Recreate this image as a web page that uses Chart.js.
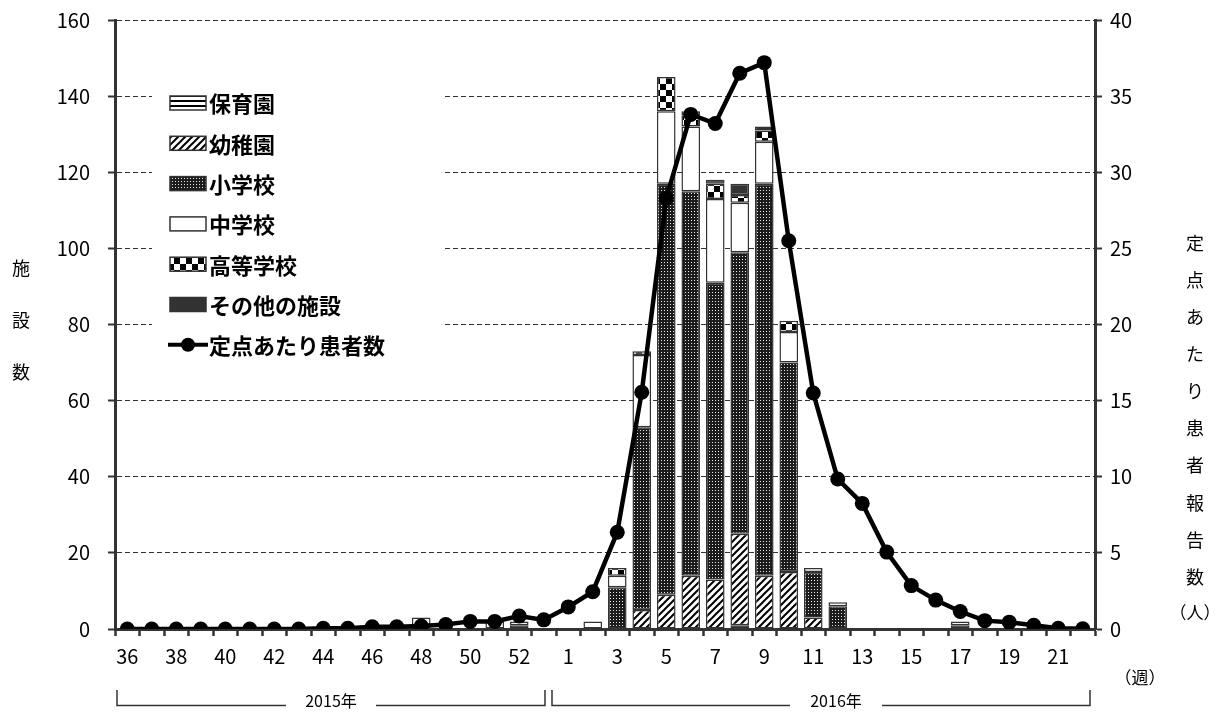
<!DOCTYPE html>
<html>
<head>
<meta charset="utf-8">
<script src="https://cdn.jsdelivr.net/npm/chart.js@4.4.1/dist/chart.umd.min.js"></script>
<style>
  html, body { margin: 0; padding: 0; background: #fff; }
  #wrap { width: 1219px; height: 716px; position: relative; }
</style>
</head>
<body>
<div id="wrap"><canvas id="chart" width="1219" height="716"></canvas></div>
<script>
// 週 (2015年 36〜53週, 2016年 1〜22週)
const weeks = [
  "36", "37", "38", "39", "40", "41", "42", "43", "44", "45", "46", "47", "48", "49", "50", "51", "52", "53",
  "1", "2", "3", "4", "5", "6", "7", "8", "9", "10", "11", "12", "13", "14", "15", "16", "17", "18", "19", "20", "21", "22",
];

// 施設数 (左軸)
const hoikuen = [
  0, 0, 0, 0, 0, 0, 0, 0, 0, 0, 0, 0, 0, 0, 0, 0, 0, 0,
  0, 0, 0, 0, 0, 0, 0, 1, 0, 0, 0, 0, 0, 0, 0, 0, 0, 0, 0, 0, 0, 0,
];
const youchien = [
  0, 0, 0, 0, 0, 0, 0, 0, 0, 0, 0, 0, 0, 0, 0, 0, 0, 0,
  0, 0, 0, 5, 9, 14, 13, 24, 14, 15, 3, 0, 0, 0, 0, 0, 0, 0, 0, 0, 0, 0,
];
const shougakkou = [
  0, 0, 0, 0, 0, 0, 0, 0, 0, 0, 0, 0, 1, 0, 0, 0, 1, 0,
  0, 0, 11, 48, 108, 101, 78, 74, 103, 55, 12, 6, 0, 0, 0, 0, 1, 0, 0, 0, 0, 0,
];
const chuugakkou = [
  0, 0, 0, 0, 0, 0, 0, 0, 0, 0, 0, 0, 2, 0, 0, 2, 1, 0,
  0, 2, 3, 19, 19, 17, 22, 13, 11, 8, 1, 1, 0, 0, 0, 0, 1, 0, 0, 0, 0, 0,
];
const koutougakkou = [
  0, 0, 0, 0, 0, 0, 0, 0, 0, 0, 0, 0, 0, 0, 0, 0, 0, 0,
  0, 0, 2, 1, 9, 3, 4, 2, 3, 3, 0, 0, 0, 0, 0, 0, 0, 0, 0, 0, 0, 0,
];
const sonota = [
  0, 0, 0, 0, 0, 0, 0, 0, 0, 0, 0, 0, 0, 0, 0, 0, 0, 0,
  0, 0, 0, 0, 0, 1, 1, 3, 1, 0, 0, 0, 0, 0, 0, 0, 0, 0, 0, 0, 0, 0,
];

// 定点あたり患者報告数 (右軸)
const teiten = [
  0, 0, 0, 0, 0, 0, 0, 0, 0.05, 0.05, 0.15, 0.15, 0.2, 0.3, 0.5, 0.5, 0.85, 0.6,
  1.45, 2.45, 6.35, 15.55, 28.3, 33.8, 33.2, 36.5, 37.2, 25.5, 15.5, 9.85, 8.25, 5.05, 2.85, 1.9, 1.15, 0.55, 0.45, 0.25, 0.05, 0.02,
];

const leftTicks = [0, 20, 40, 60, 80, 100, 120, 140, 160];
const rightTicks = [0, 5, 10, 15, 20, 25, 30, 35, 40];

const FONT = "'Noto Sans CJK JP', 'Noto Sans', sans-serif";
Chart.defaults.font.family = FONT;
Chart.defaults.font.size = 20;
Chart.defaults.color = "#000";

const canvas = document.getElementById("chart");
const ctx = canvas.getContext("2d");

const makePattern = (w, h, draw) => {
  const tile = document.createElement("canvas");
  tile.width = w;
  tile.height = h;
  const g = tile.getContext("2d");
  draw(g, w, h);
  return ctx.createPattern(tile, "repeat");
};

const fills = {
  stripes: makePattern(4, 5, (g, w, h) => {
    g.fillStyle = "#fff";
    g.fillRect(0, 0, w, h);
    g.fillStyle = "#000";
    g.fillRect(0, 0, w, 2);
  }),
  hatch: makePattern(7, 7, (g, w, h) => {
    g.fillStyle = "#fff";
    g.fillRect(0, 0, w, h);
    g.strokeStyle = "#000";
    g.lineWidth = 2;
    g.beginPath();
    g.moveTo(-1, h + 1); g.lineTo(w + 1, -1);
    g.moveTo(-2, 2); g.lineTo(2, -2);
    g.moveTo(w - 2, h + 2); g.lineTo(w + 2, h - 2);
    g.stroke();
  }),
  dots: makePattern(3, 3, (g, w, h) => {
    g.fillStyle = "#1c1c1c";
    g.fillRect(0, 0, w, h);
    g.fillStyle = "#e6e6e6";
    g.fillRect(1, 1, 1, 1);
  }),
  checker: makePattern(12, 12, (g, w, h) => {
    g.fillStyle = "#fff";
    g.fillRect(0, 0, w, h);
    g.fillStyle = "#000";
    g.fillRect(0, 0, 6, 6);
    g.fillRect(6, 6, 6, 6);
  }),
};

const barSet = (label, values, fill) => ({
  type: "bar",
  label,
  data: values.map((v) => (v ? v : null)),
  backgroundColor: fill,
  borderColor: "#333",
  borderWidth: 1.5,
  borderSkipped: false,
  barPercentage: 0.76,
  categoryPercentage: 1,
  stack: "s",
  yAxisID: "y",
  order: 1,
});

// y軸ラベルのはみ出し分を詰めて、プロット上端を固定する
const fixWidth = (w) => (s) => {
  s.width = w;
  s.paddingTop = 0;
  s.paddingBottom = 0;
};

const legendPlugin = {
  id: "legendBox",
  afterDraw(chart) {
    const c = chart.ctx;
    c.save();
    c.fillStyle = "#fff";
    c.fillRect(152, 82, 290, 286);
    c.font = "bold 22px " + FONT;
    c.textBaseline = "middle";
    chart.data.datasets.forEach((ds, k) => {
      const y = 103 + k * 40.3;
      if (ds.type === "line") {
        c.strokeStyle = "#000";
        c.lineWidth = 4;
        c.beginPath();
        c.moveTo(168, y);
        c.lineTo(208, y);
        c.stroke();
        c.fillStyle = "#000";
        c.beginPath();
        c.arc(188, y, 7, 0, Math.PI * 2);
        c.fill();
      } else {
        c.fillStyle = ds.backgroundColor;
        c.fillRect(170, y - 7, 36, 14);
        c.strokeStyle = "#333";
        c.lineWidth = 1.5;
        c.strokeRect(170, y - 7, 36, 14);
      }
      c.fillStyle = "#000";
      c.fillText(ds.label, 209, y + 1);
    });
    c.restore();
  },
};

const annotationPlugin = {
  id: "titles",
  afterDraw(chart) {
    const c = chart.ctx;
    c.save();
    c.fillStyle = "#000";
    c.textAlign = "center";
    c.textBaseline = "middle";
    c.font = "18px " + FONT;
    ["施", "設", "数"].forEach((ch, k) => c.fillText(ch, 21, 268 + k * 52));
    "定点あたり患者報告数".split("").forEach((ch, k) => c.fillText(ch, 1195, 243 + k * 37.1));
    c.font = "17px " + FONT;
    c.fillText("（人）", 1195, 613);
    c.fillText("（週）", 1140, 678);

    c.font = "16px " + FONT;
    c.fillText("2015年", 331, 701);
    c.fillText("2016年", 836, 701);
    c.strokeStyle = "#333";
    c.lineWidth = 1.5;
    c.beginPath();
    c.moveTo(117, 690); c.lineTo(117, 705.5); c.lineTo(286, 705.5);
    c.moveTo(376, 705.5); c.lineTo(545, 705.5); c.lineTo(545, 690);
    c.moveTo(552, 690); c.lineTo(552, 705.5); c.lineTo(790, 705.5);
    c.moveTo(882, 705.5); c.lineTo(1090, 705.5); c.lineTo(1090, 690);
    c.stroke();
    c.restore();
  },
};

new Chart(canvas, {
  data: {
    labels: weeks,
    datasets: [
      barSet("保育園", hoikuen, fills.stripes),
      barSet("幼稚園", youchien, fills.hatch),
      barSet("小学校", shougakkou, fills.dots),
      barSet("中学校", chuugakkou, "#fff"),
      barSet("高等学校", koutougakkou, fills.checker),
      barSet("その他の施設", sonota, "#333"),
      {
        type: "line",
        label: "定点あたり患者数",
        data: teiten,
        borderColor: "#000",
        borderWidth: 4.5,
        pointRadius: 7.5,
        pointBackgroundColor: "#000",
        pointBorderColor: "#000",
        pointBorderWidth: 0,
        tension: 0,
        yAxisID: "y1",
        order: 0,
      },
    ],
  },
  options: {
    responsive: false,
    animation: false,
    layout: { padding: { top: 20, left: 0, right: 0, bottom: 0 } },
    plugins: { legend: { display: false }, tooltip: { enabled: false } },
    scales: {
      x: {
        stacked: true,
        offset: true,
        grid: {
          offset: true,
          drawOnChartArea: false,
          drawTicks: true,
          tickLength: 7,
          tickWidth: 2.5,
          tickColor: "#333",
        },
        border: { color: "#333", width: 3 },
        ticks: {
          autoSkip: false,
          maxRotation: 0,
          padding: 8,
          callback(value, index) {
            return index % 2 === 0 ? this.getLabelForValue(value) : "";
          },
        },
        afterFit: (s) => {
          s.height = 87;
          s.paddingLeft = 0;
          s.paddingRight = 0;
        },
      },
      y: {
        stacked: true,
        position: "left",
        min: 0,
        max: 160,
        afterBuildTicks: (s) => { s.ticks = leftTicks.map((v) => ({ value: v })); },
        grid: {
          color: "#333",
          lineWidth: 1,
          tickLength: 7,
          tickWidth: 2,
          tickColor: "#333",
          tickBorderDash: [],
        },
        border: { color: "#333", width: 3, dash: [5, 3] },
        ticks: { padding: 18 },
        afterFit: fixWidth(115),
      },
      y1: {
        position: "right",
        min: 0,
        max: 40,
        afterBuildTicks: (s) => { s.ticks = rightTicks.map((v) => ({ value: v })); },
        grid: {
          drawOnChartArea: false,
          tickLength: 7,
          tickWidth: 2,
          tickColor: "#333",
        },
        border: { color: "#333", width: 3 },
        ticks: { padding: 8 },
        afterFit: fixWidth(124),
      },
    },
  },
  plugins: [legendPlugin, annotationPlugin],
});
</script>
</body>
</html>
